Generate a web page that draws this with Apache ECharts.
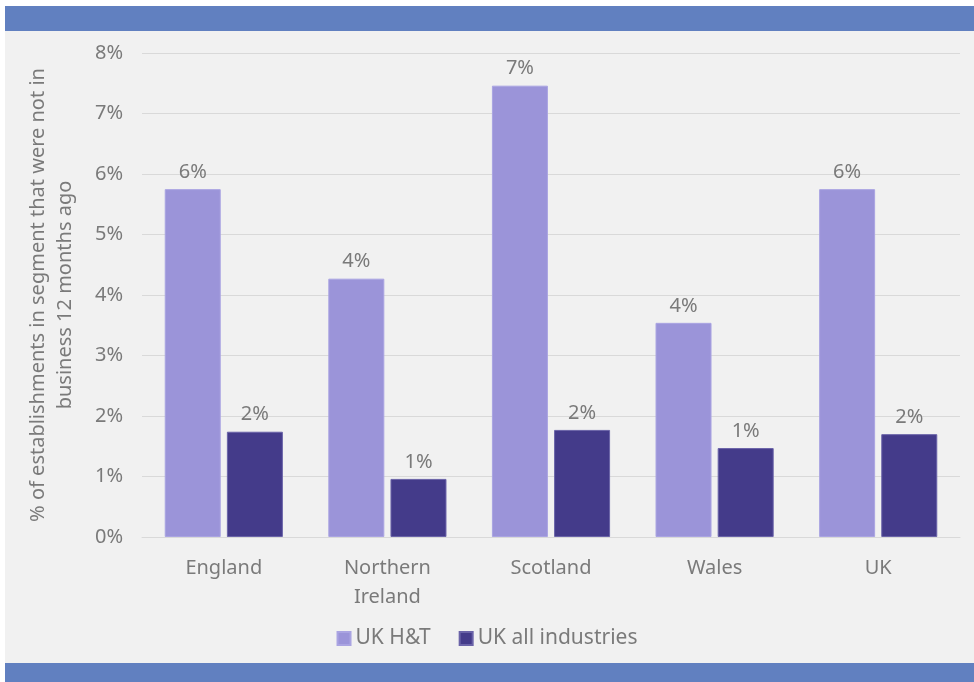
<!DOCTYPE html>
<html>
<head>
<meta charset="utf-8">
<script src="https://cdn.jsdelivr.net/npm/echarts@6/dist/echarts.min.js"></script>
<style>
  html, body { margin: 0; padding: 0; background: #ffffff; }
  #chart { width: 974px; height: 682px; }
</style>
</head>
<body>
<div id="chart"></div>
<script>
// Regions shown along the x axis
const categories = ['England', 'Northern\nIreland', 'Scotland', 'Wales', 'UK'];
// Share of establishments new in the last 12 months (%)
const ukHT = [5.75, 4.27, 7.46, 3.54, 5.75];
const ukAll = [1.74, 0.96, 1.77, 1.47, 1.70];
const seriesNames = ['UK H&T', 'UK all industries'];
const yAxisTitle = '% of establishments in segment that were not in\nbusiness 12 months ago';

const textColor = '#7a7a7a';
const fontFamily = '"Noto Sans", sans-serif';

const chart = echarts.init(document.getElementById('chart'));

const barLabel = {
  show: true,
  position: 'top',
  distance: 7,
  color: textColor,
  fontSize: 20,
  fontFamily: fontFamily,
  formatter: p => Math.round(p.value) + '%'
};

chart.setOption({
  animation: false,
  graphic: [
    { type: 'rect', shape: { x: 5, y: 6, width: 969, height: 676 }, style: { fill: '#f1f1f1' }, z: -10 },
    { type: 'rect', shape: { x: 5, y: 6, width: 969, height: 25 }, style: { fill: '#6180c0' }, z: -9 },
    { type: 'rect', shape: { x: 5, y: 663, width: 969, height: 19 }, style: { fill: '#6180c0' }, z: -9 }
  ],
  grid: { left: 142, right: 14, top: 53, bottom: 145 },
  legend: {
    data: seriesNames,
    top: 623,
    left: 'center',
    itemWidth: 13,
    itemHeight: 13,
    itemGap: 28,
    icon: 'rect',
    textStyle: { color: textColor, fontSize: 21, fontFamily: fontFamily }
  },
  xAxis: {
    type: 'category',
    data: categories,
    axisLine: { show: true, lineStyle: { color: '#d9d9d9' } },
    axisTick: { show: false },
    axisLabel: { color: textColor, fontSize: 20, fontFamily: fontFamily, margin: 17, lineHeight: 29 }
  },
  yAxis: {
    type: 'value',
    min: 0,
    max: 8,
    interval: 1,
    name: yAxisTitle,
    nameLocation: 'middle',
    nameGap: 63,
    nameRotate: 90,
    nameTextStyle: { color: textColor, fontSize: 20, fontFamily: fontFamily, lineHeight: 27 },
    axisLine: { show: false },
    axisTick: { show: false },
    splitLine: { lineStyle: { color: '#d9d9d9' } },
    axisLabel: { color: textColor, fontSize: 20, fontFamily: fontFamily, margin: 19, formatter: v => v + '%' }
  },
  series: [
    {
      name: seriesNames[0],
      type: 'bar',
      data: ukHT,
      barWidth: 56,
      barGap: '11%',
      itemStyle: { color: '#9b94d9', borderColor: '#aaa4e2', borderWidth: 1 },
      label: barLabel
    },
    {
      name: seriesNames[1],
      type: 'bar',
      data: ukAll,
      barWidth: 56,
      itemStyle: { color: '#443b8a', borderColor: '#6a63a8', borderWidth: 1 },
      label: barLabel
    }
  ]
});
</script>
</body>
</html>
